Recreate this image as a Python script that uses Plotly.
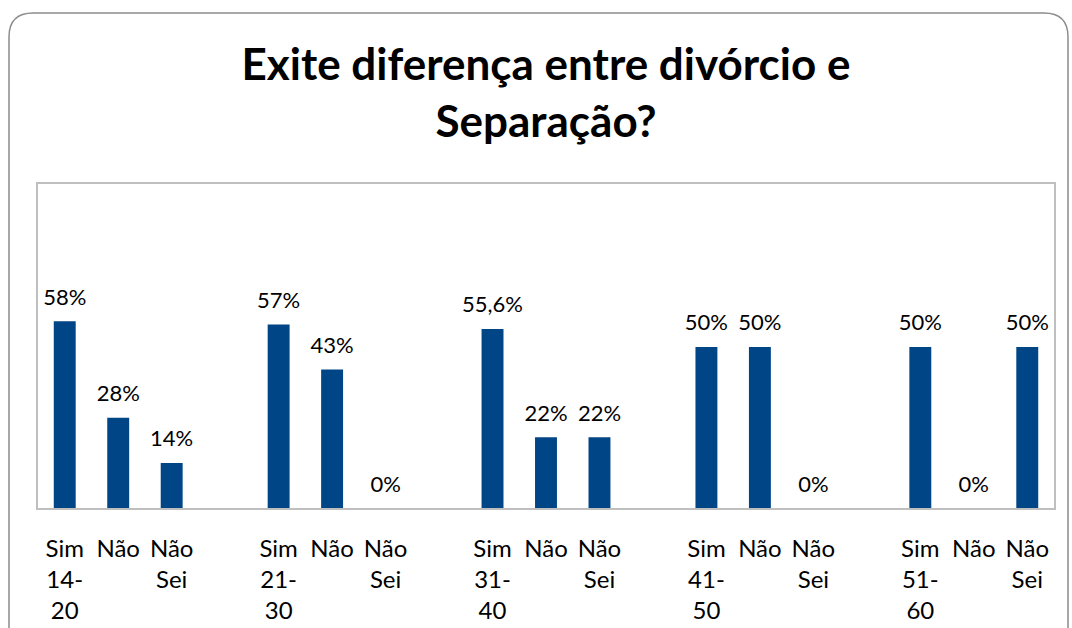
import plotly.graph_objects as go

# ---- data ----
groups = ["14-20", "21-30", "31-40", "41-50", "51-60"]
answers = ["Sim", "Não", "Não Sei"]
sim_values = [58, 57, 55.6, 50, 50]
nao_values = [28, 43, 22, 50, 0]
naosei_values = [14, 0, 22, 0, 50]
sim_labels = ["58%", "57%", "55,6%", "50%", "50%"]
nao_labels = ["28%", "43%", "22%", "50%", "0%"]
naosei_labels = ["14%", "0%", "22%", "0%", "50%"]
tick_sim = ["Sim<br>14-<br>20", "Sim<br>21-<br>30", "Sim<br>31-<br>40", "Sim<br>41-<br>50", "Sim<br>51-<br>60"]
tick_nao = ["Não"] * 5
tick_naosei = ["Não<br>Sei"] * 5
title_text = "Exite diferença entre divórcio e<br>Separação?"

W, H = 1072, 628
L, R, T, B = 38, 1054, 184, 508

xs, ys, texts, tickvals, ticktext = [], [], [], [], []
for g in range(len(groups)):
    trio = [(sim_values[g], sim_labels[g], tick_sim[g]),
            (nao_values[g], nao_labels[g], tick_nao[g]),
            (naosei_values[g], naosei_labels[g], tick_naosei[g])]
    for a, (v, lab, tk) in enumerate(trio):
        pos = g * 4 + a
        xs.append(pos)
        ys.append(v)
        texts.append(lab)
        tickvals.append(pos)
        ticktext.append(tk)

FONT = "Lato, Open Sans, sans-serif"

fig = go.Figure()
fig.add_trace(go.Bar(
    x=xs, y=ys,
    marker=dict(color="#004586", line=dict(width=0)),
    width=0.41, hoverinfo="skip",
))
fig.add_trace(go.Scatter(
    x=xs, y=ys, text=texts, mode="markers+text", textposition="top center",
    textfont=dict(size=22, color="#000000", family=FONT),
    marker=dict(size=16, color="rgba(0,0,0,0)"),
    cliponaxis=False, hoverinfo="skip",
))

def px_x(p):
    return (p - L) / (R - L)

def px_y(p):
    return (B - p) / (B - T)

# outer rounded border
x0, x1, y0, y1 = px_x(9), px_x(1068), px_y(13), px_y(660)
rx = 24 / (R - L)
ry = 24 / (B - T)
path = (f"M {x0+rx},{y0} L {x1-rx},{y0} Q {x1},{y0} {x1},{y0-ry} "
        f"L {x1},{y1+ry} Q {x1},{y1} {x1-rx},{y1} L {x0+rx},{y1} "
        f"Q {x0},{y1} {x0},{y1+ry} L {x0},{y0-ry} Q {x0},{y0} {x0+rx},{y0} Z")

fig.update_layout(
    width=W, height=H,
    margin=dict(l=L, r=W - R, t=T, b=H - B, autoexpand=False),
    paper_bgcolor="white", plot_bgcolor="white",
    showlegend=False,
    title=dict(text=title_text, x=0.5, xref="paper", xanchor="center",
               y=1 - 80 / H, yanchor="middle",
               font=dict(family=FONT, size=44, color="#000000", weight="bold")),
    xaxis=dict(range=[-0.5, 18.5], tickmode="array", tickvals=tickvals, ticktext=ticktext,
               tickfont=dict(family=FONT, size=24, color="#000000"),
               showgrid=False, zeroline=False, ticks="", automargin=False,
               ticklabelstandoff=18,
               showline=True, mirror=True, linecolor="#BFBFBF", linewidth=2),
    yaxis=dict(range=[0, 100.6], showticklabels=False, showgrid=False, zeroline=False,
               ticks="", automargin=False,
               showline=True, mirror=True, linecolor="#BFBFBF", linewidth=2),
    shapes=[dict(type="path", path=path, xref="paper", yref="paper",
                 line=dict(color="#8C8C8C", width=1.5), fillcolor="rgba(0,0,0,0)",
                 layer="above")],
)

fig.write_html("out.html", config={"displayModeBar": False},
               post_script="document.body.style.margin='0';")
